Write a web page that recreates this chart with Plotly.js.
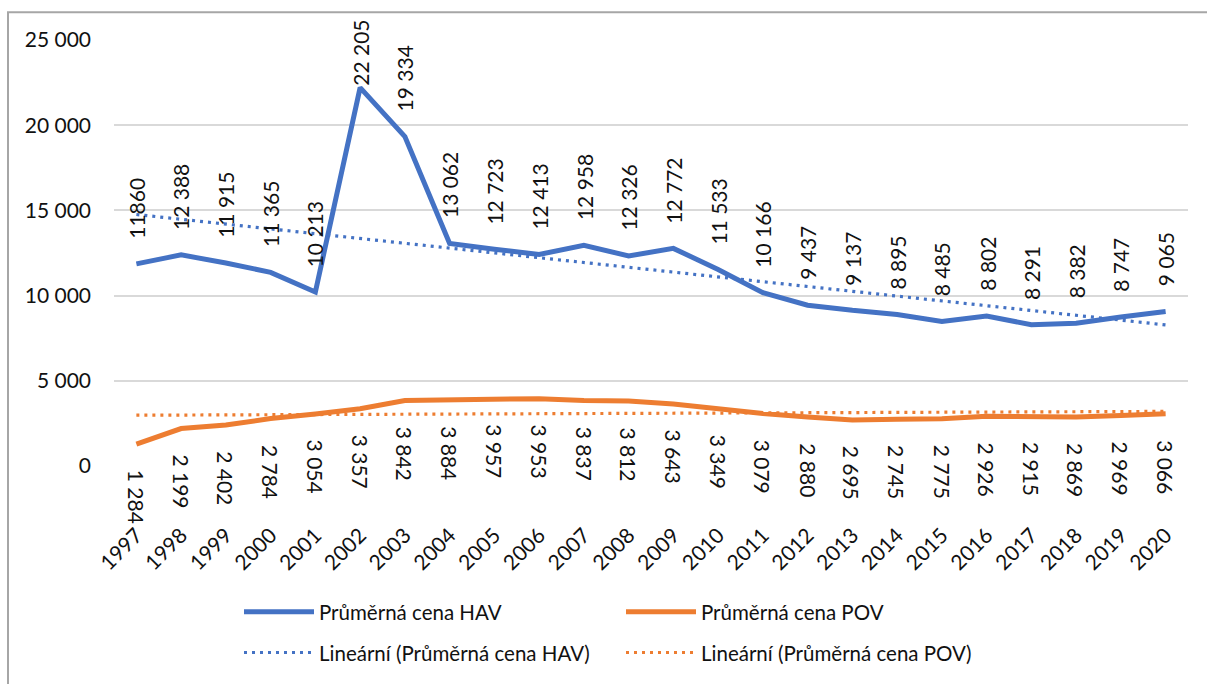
<!DOCTYPE html>
<html>
<head>
<meta charset="utf-8">
<script src="https://cdn.plot.ly/plotly-3.0.1.min.js"></script>
<style>
html,body{margin:0;padding:0;background:#fff;}
#chart{width:1207px;height:684px;}
</style>
</head>
<body>
<div id="chart"></div>
<script>
// ---- data ----
const years = [1997, 1998, 1999, 2000, 2001, 2002, 2003, 2004, 2005, 2006, 2007, 2008,
               2009, 2010, 2011, 2012, 2013, 2014, 2015, 2016, 2017, 2018, 2019, 2020];
const havPrice = [11860, 12388, 11915, 11365, 10213, 22205, 19334, 13062, 12723, 12413, 12958, 12326,
                  12772, 11533, 10166, 9437, 9137, 8895, 8485, 8802, 8291, 8382, 8747, 9065];
const povPrice = [1284, 2199, 2402, 2784, 3054, 3357, 3842, 3884, 3957, 3953, 3837, 3812,
                  3643, 3349, 3079, 2880, 2695, 2745, 2775, 2926, 2915, 2869, 2969, 3066];
// linear trend lines (end points)
const trendYears = [1997, 2020];
const havTrend = [14760, 8280];
const povTrend = [2980, 3205];
const seriesNames = ['Průměrná cena HAV', 'Průměrná cena POV',
                     'Lineární (Průměrná cena HAV)', 'Lineární (Průměrná cena POV)'];
const yTicks = [0, 5000, 10000, 15000, 20000, 25000];
// label text exceptions as shown in the original
const havLabelOverride = {0: '11860'};

// ---- helpers ----
function fmt(v){ return String(v).replace(/\B(?=(\d{3})+(?!\d))/g, ' '); }

const BLUE = '#4472C4', ORANGE = '#ED7D31';
const FONT = 'Lato, "Open Sans", sans-serif';
const TXT = '#111111';
const FS = 21;

const W = 1207, H = 684;
const M = {l: 114, r: 19, t: 40, b: 215};
const plotH = H - M.t - M.b, plotW = W - M.l - M.r;
const yMax = 25000;

const traces = [
  {x: years, y: havPrice, name: seriesNames[0], type: 'scatter', mode: 'lines',
   line: {color: BLUE, width: 5}, legend: 'legend', hoverinfo: 'skip'},
  {x: years, y: povPrice, name: seriesNames[1], type: 'scatter', mode: 'lines',
   line: {color: ORANGE, width: 5}, legend: 'legend', hoverinfo: 'skip'},
  {x: trendYears, y: havTrend, name: seriesNames[2], type: 'scatter', mode: 'lines',
   line: {color: BLUE, width: 3.2, dash: '3px,5px'}, legend: 'legend2', hoverinfo: 'skip'},
  {x: trendYears, y: povTrend, name: seriesNames[3], type: 'scatter', mode: 'lines',
   line: {color: ORANGE, width: 3.2, dash: '3px,5px'}, legend: 'legend2', hoverinfo: 'skip'}
];

const annotations = [];
const labelLen = 66;
years.forEach((yr, i) => {
  const v = havPrice[i];
  const pix = M.t + (1 - v / yMax) * plotH;
  let shift = 23;
  if (pix - shift - labelLen < 22) shift = Math.max(0, pix - 22 - labelLen);
  annotations.push({
    x: yr, y: v, xref: 'x', yref: 'y', showarrow: false,
    text: havLabelOverride[i] !== undefined ? havLabelOverride[i] : fmt(v),
    textangle: -90, xanchor: 'center', yanchor: 'bottom', yshift: shift,
    font: {family: FONT, size: FS, color: TXT}
  });
  const p = povPrice[i];
  annotations.push({
    x: yr, y: p, xref: 'x', yref: 'y', showarrow: false,
    text: fmt(p), textangle: 90, xanchor: 'center', yanchor: 'top', yshift: -24,
    font: {family: FONT, size: FS, color: TXT}
  });
});

// frame around chart area (left + top edge visible)
const px2x = px => (px - M.l) / plotW;
const px2y = py => (M.t + plotH - py) / plotH;
const shapes = [{
  type: 'path', xref: 'paper', yref: 'paper', layer: 'above',
  path: 'M' + px2x(8) + ',' + px2y(700) + ' L' + px2x(8) + ',' + px2y(12) + ' L' + px2x(1220) + ',' + px2y(12),
  line: {color: '#A6A6A6', width: 2}
}];

const legendFont = {family: FONT, size: 20.5, color: TXT};
const layout = {
  width: W, height: H,
  margin: M,
  paper_bgcolor: '#ffffff', plot_bgcolor: '#ffffff',
  font: {family: FONT, size: FS, color: TXT},
  showlegend: true,
  xaxis: {
    range: [1996.5, 2020.5], tickmode: 'array', tickvals: years, ticktext: years.map(String),
    tickangle: -45, showgrid: false, zeroline: false, showline: false, ticks: '',
    ticklabelstandoff: 52, tickfont: {family: FONT, size: FS, color: TXT}
  },
  yaxis: {
    range: [0, yMax], tickmode: 'array', tickvals: yTicks, ticktext: yTicks.map(fmt),
    showgrid: true, gridcolor: '#D9D9D9', gridwidth: 2, zeroline: false, showline: false,
    ticks: '', ticklabelstandoff: 22, tickfont: {family: FONT, size: FS, color: TXT}
  },
  legend: {
    orientation: 'h', x: px2x(239), y: px2y(616), xanchor: 'left', yanchor: 'middle',
    entrywidth: 297, entrywidthmode: 'pixels', itemwidth: 70, bgcolor: 'rgba(0,0,0,0)',
    font: legendFont, traceorder: 'normal'
  },
  legend2: {
    orientation: 'h', x: px2x(239), y: px2y(657), xanchor: 'left', yanchor: 'middle',
    entrywidth: 297, entrywidthmode: 'pixels', itemwidth: 70, bgcolor: 'rgba(0,0,0,0)',
    font: legendFont, traceorder: 'normal'
  },
  annotations: annotations,
  shapes: shapes
};

Plotly.newPlot('chart', traces, layout, {staticPlot: true, displayModeBar: false});
</script>
</body>
</html>
